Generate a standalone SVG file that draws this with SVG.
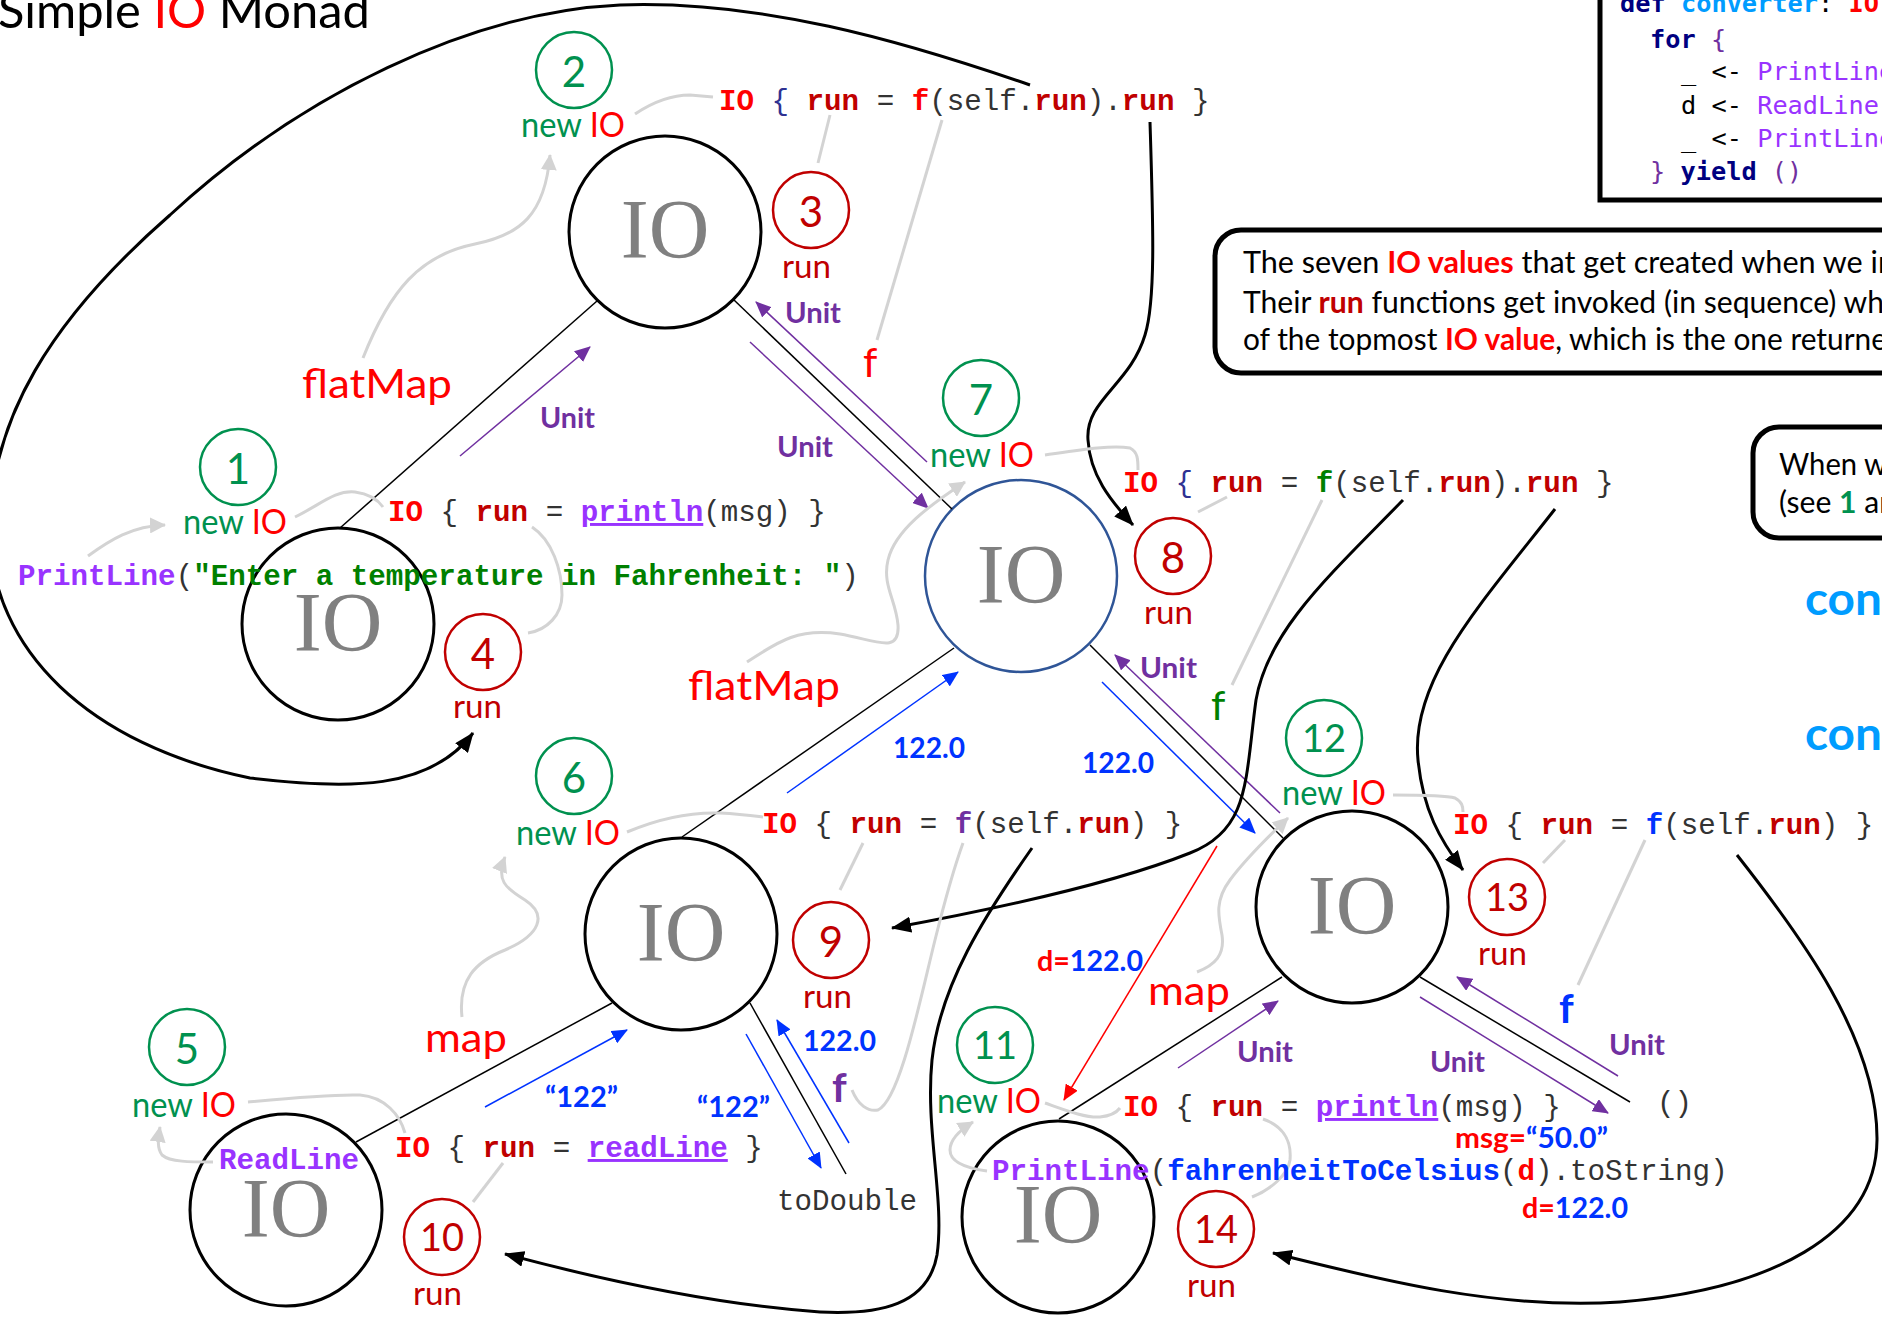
<svg xmlns="http://www.w3.org/2000/svg" width="1882" height="1319" viewBox="0 0 1882 1319">
<defs>
  <marker id="mP" viewBox="0 0 16 14" refX="15" refY="7" markerWidth="16" markerHeight="14" markerUnits="userSpaceOnUse" orient="auto"><path d="M0,0 L16,7 L0,14 z" fill="#7030A0"/></marker>
  <marker id="mB" viewBox="0 0 16 14" refX="15" refY="7" markerWidth="16" markerHeight="14" markerUnits="userSpaceOnUse" orient="auto"><path d="M0,0 L16,7 L0,14 z" fill="#0033FF"/></marker>
  <marker id="mR" viewBox="0 0 16 14" refX="15" refY="7" markerWidth="16" markerHeight="14" markerUnits="userSpaceOnUse" orient="auto"><path d="M0,0 L16,7 L0,14 z" fill="#FF0000"/></marker>
  <marker id="mK" viewBox="0 0 20 16" refX="19" refY="8" markerWidth="20" markerHeight="16" markerUnits="userSpaceOnUse" orient="auto"><path d="M0,0 L20,8 L0,16 z" fill="#000"/></marker>
  <marker id="mG" viewBox="0 0 16 16" refX="15" refY="8" markerWidth="16" markerHeight="16" markerUnits="userSpaceOnUse" orient="auto"><path d="M0,0 L16,8 L0,16 z" fill="#D3D3D3"/></marker>
</defs>
<style>
  .io { fill:#fff; stroke:#000; stroke-width:3 }
  .io3 { stroke:#2F5597; stroke-width:2.5 }
  .ioText { font-family:"Liberation Serif","Times New Roman",serif; font-size:84px; fill:#808080; text-anchor:middle }
  .badge { fill:none; stroke-width:2.5 }
  .bg { stroke:#00914F } .br { stroke:#C00000 }
  .num { font-family:Lato,"Open Sans",sans-serif; text-anchor:middle; font-size:42px }
  .num2 { font-size:38px }
  .ng { fill:#00914F } .nr { fill:#C00000 }
  .sans { font-family:Lato,"Open Sans",sans-serif }
  .newio { font-size:34px; fill:#00914F }
  .red { fill:#FF0000 }
  .runl { font-size:33px; fill:#C00000 }
  .big { font-size:41px; fill:#FF0000 }
  .unit { font-size:29px; font-weight:bold; fill:#7030A0 }
  .val { font-size:29px; font-weight:bold; fill:#0033FF }
  .code { font-family:"Liberation Mono","Courier New",monospace; font-size:29.2px; fill:#333 }
  .cio { fill:#FF0000; font-weight:bold }
  .crun { fill:#C00000; font-weight:bold }
  .cfn { fill:#9933FF; font-weight:bold; text-decoration:underline }
  .cpl { fill:#9933FF; font-weight:bold }
  .cstr { fill:#008000; font-weight:bold }
  .thin { fill:none; stroke:#000; stroke-width:1.5 }
  .ap { fill:none; stroke:#7030A0; stroke-width:1.5; marker-end:url(#mP) }
  .ab { fill:none; stroke:#0033FF; stroke-width:1.5; marker-end:url(#mB) }
  .ar { fill:none; stroke:#FF0000; stroke-width:1.5; marker-end:url(#mR) }
  .flow { fill:none; stroke:#000; stroke-width:3; marker-end:url(#mK) }
  .grey { fill:none; stroke:#D3D3D3; stroke-width:3 }
  .greyA { fill:none; stroke:#D3D3D3; stroke-width:3; marker-end:url(#mG) }
  .box { fill:#fff; stroke:#000; stroke-width:5 }
  .boxt { font-family:Lato,"Open Sans",sans-serif; font-size:30px; fill:#000 }
  .mono { font-family:"DejaVu Sans Mono",monospace; font-size:25.3px; fill:#000 }
  .kw { fill:#000080; font-weight:bold }
  .pp { fill:#7030A0 }
  .vl { fill:#9933FF }
</style>

<!-- title -->
<text class="sans" x="-2" y="28" font-size="48" textLength="372" lengthAdjust="spacingAndGlyphs">Simple <tspan class="red">IO</tspan> Monad</text>

<!-- for-comprehension source box -->
<g id="source">
  <rect class="box" x="1600" y="-20" width="400" height="220"/>
  <text class="mono" x="1620" y="12" xml:space="preserve"><tspan class="kw">def</tspan> <tspan fill="#009CFF" font-weight="bold">converter</tspan>: <tspan fill="#FF0000" font-weight="bold">IO</tspan></text>
  <text class="mono" x="1650" y="48" xml:space="preserve"><tspan class="kw">for</tspan> <tspan class="pp">{</tspan></text>
  <text class="mono" x="1681" y="80" xml:space="preserve">_ &lt;- <tspan class="vl">PrintLine</tspan></text>
  <text class="mono" x="1681" y="114" xml:space="preserve">d &lt;- <tspan class="vl">ReadLine</tspan></text>
  <text class="mono" x="1681" y="147" xml:space="preserve">_ &lt;- <tspan class="vl">PrintLine</tspan></text>
  <text class="mono" x="1650" y="180" xml:space="preserve"><tspan class="pp">}</tspan> <tspan class="kw">yield</tspan> <tspan class="pp">()</tspan></text>
</g>

<!-- explanation boxes -->
<g id="note-seven">
  <rect class="box" x="1215" y="230" width="720" height="143" rx="26"/>
  <text class="boxt" x="1243" y="273" textLength="652" lengthAdjust="spacingAndGlyphs">The seven <tspan fill="#FF0000" font-weight="bold">IO values</tspan> that get created when we in</text>
  <text class="boxt" x="1243" y="313" textLength="641" lengthAdjust="spacingAndGlyphs">Their <tspan fill="#C00000" font-weight="bold">run</tspan> functions get invoked (in sequence) wh</text>
  <text class="boxt" x="1243" y="350" textLength="644" lengthAdjust="spacingAndGlyphs">of the topmost <tspan fill="#FF0000" font-weight="bold">IO value</tspan>, which is the one returne</text>
</g>
<g id="note-when">
  <rect class="box" x="1753" y="427" width="200" height="111" rx="26"/>
  <text class="boxt" x="1779" y="475" textLength="108" lengthAdjust="spacingAndGlyphs">When w</text>
  <text class="boxt" x="1779" y="513" textLength="117" lengthAdjust="spacingAndGlyphs">(see <tspan fill="#00914F" font-weight="bold">1</tspan> an</text>
</g>
<text class="sans" x="1805" y="615" font-size="45" font-weight="bold" fill="#009CFF" textLength="77" lengthAdjust="spacingAndGlyphs">con</text>
<text class="sans" x="1805" y="750" font-size="45" font-weight="bold" fill="#009CFF" textLength="77" lengthAdjust="spacingAndGlyphs">con</text>

<!-- IO nodes -->
<g id="io-printline-1"><circle class="io" cx="338" cy="624" r="96"/><text class="ioText" x="338" y="651">IO</text></g>
<g id="io-flatmap-top"><circle class="io" cx="665" cy="232" r="96"/><text class="ioText" x="665" y="258">IO</text></g>
<g id="io-flatmap-mid"><circle class="io io3" cx="1021" cy="576" r="96"/><text class="ioText" x="1021" y="603">IO</text></g>
<g id="io-map-left"><circle class="io" cx="681" cy="934" r="96"/><text class="ioText" x="681" y="961">IO</text></g>
<g id="io-readline"><circle class="io" cx="286" cy="1210" r="96"/><text class="ioText" x="286" y="1237">IO</text></g>
<g id="io-map-right"><circle class="io" cx="1352" cy="907" r="96"/><text class="ioText" x="1352" y="934">IO</text></g>
<g id="io-printline-2"><circle class="io" cx="1058" cy="1217" r="96"/><text class="ioText" x="1058" y="1243">IO</text></g>

<!-- connectors -->
<g id="connectors">
  <!-- tree edges -->
  <line class="thin" x1="340" y1="528" x2="597" y2="301"/>
  <line class="thin" x1="734" y1="300" x2="952" y2="509"/>
  <line class="thin" x1="954" y1="648" x2="682" y2="837"/>
  <line class="thin" x1="1090" y1="645" x2="1283" y2="838"/>
  <line class="thin" x1="356" y1="1142" x2="612" y2="1003"/>
  <line class="thin" x1="750" y1="1003" x2="846" y2="1174"/>
  <line class="thin" x1="1282" y1="977" x2="1059" y2="1119"/>
  <line class="thin" x1="1420" y1="977" x2="1630" y2="1102"/>

  <!-- values passed along the edges -->
  <line class="ap" x1="460" y1="456" x2="590" y2="347"/>
  <line class="ap" x1="927" y1="462" x2="756" y2="302"/>
  <line class="ap" x1="750" y1="342" x2="928" y2="508"/>
  <line class="ab" x1="787" y1="793" x2="958" y2="672"/>
  <line class="ab" x1="1102" y1="682" x2="1255" y2="833"/>
  <line class="ap" x1="1280" y1="813" x2="1115" y2="655"/>
  <line class="ab" x1="485" y1="1107" x2="627" y2="1030"/>
  <line class="ab" x1="746" y1="1034" x2="821" y2="1168"/>
  <line class="ab" x1="849" y1="1143" x2="777" y2="1020"/>
  <line class="ap" x1="1178" y1="1068" x2="1278" y2="1001"/>
  <line class="ap" x1="1420" y1="997" x2="1608" y2="1113"/>
  <line class="ap" x1="1618" y1="1076" x2="1457" y2="977"/>
  <line class="ar" x1="1217" y1="846" x2="1064" y2="1100"/>

  <!-- run invocation flow -->
  <path class="flow" d="M1030,85 C900,40 760,0 620,5 C470,12 300,95 170,215 C50,320 -10,420 -10,530 C-10,650 90,745 250,778 C350,790 430,790 473,733"/>
  <path class="flow" d="M1150,122 C1153,220 1156,300 1145,335 C1130,385 1085,400 1088,440 C1090,475 1110,500 1133,525"/>
  <path class="flow" d="M1403,500 C1330,575 1268,630 1256,700 C1245,780 1250,830 1190,853 C1110,885 990,910 892,928"/>
  <path class="flow" d="M1555,509 C1480,605 1410,680 1418,760 C1423,810 1440,840 1463,870"/>
  <path class="flow" d="M1032,848 C985,915 940,985 932,1060 C925,1130 945,1200 937,1255 C928,1305 880,1315 820,1312 C720,1305 610,1282 505,1254"/>
  <path class="flow" d="M1737,855 C1800,935 1878,1040 1877,1140 C1876,1235 1770,1290 1620,1302 C1500,1310 1380,1280 1273,1253"/>

  <!-- annotation leaders -->
  <path class="greyA" d="M88,556 C110,540 132,526 165,525"/>
  <path class="grey" d="M295,517 C320,505 335,490 355,492 C370,494 378,500 383,507"/>
  <path class="grey" d="M532,527 C552,540 562,570 562,595 C562,615 547,630 528,633"/>
  <path class="greyA" d="M363,358 C390,290 420,255 475,244 C520,235 545,215 550,155"/>
  <path class="grey" d="M635,114 C650,104 668,95 690,95 L713,97"/>
  <path class="grey" d="M830,115 L818,163"/>
  <path class="grey" d="M877,340 L942,120"/>
  <path class="greyA" d="M747,662 C780,640 800,628 840,634 C875,640 900,655 898,625 C896,600 882,585 888,560 C895,530 930,505 965,482"/>
  <path class="grey" d="M1045,455 C1080,450 1110,445 1130,448 C1138,452 1138,460 1138,470"/>
  <path class="grey" d="M1227,497 L1198,512"/>
  <path class="grey" d="M1232,685 L1322,500"/>
  <path class="greyA" d="M462,1017 C458,980 475,962 505,950 C540,935 548,915 525,900 C505,888 496,880 505,857"/>
  <path class="grey" d="M627,832 C660,818 690,812 720,813 C740,814 755,816 763,817"/>
  <path class="grey" d="M863,843 L840,890"/>
  <path class="grey" d="M852,1090 C858,1105 868,1112 878,1110 C900,1100 920,1000 935,940 C945,900 955,865 963,843"/>
  <path class="greyA" d="M213,1162 C190,1162 170,1162 162,1155 C157,1148 158,1140 160,1127"/>
  <path class="grey" d="M248,1102 C290,1098 330,1094 360,1095 C385,1097 400,1115 405,1133"/>
  <path class="grey" d="M503,1163 L473,1202"/>
  <path class="greyA" d="M1197,972 C1215,965 1225,955 1222,935 C1218,915 1215,900 1230,880 C1245,860 1270,835 1288,818"/>
  <path class="grey" d="M1393,795 C1420,795 1445,795 1455,798 C1462,802 1463,806 1463,812"/>
  <path class="grey" d="M1565,840 L1543,863"/>
  <path class="grey" d="M1578,985 L1645,840"/>
  <path class="greyA" d="M987,1171 C965,1168 950,1162 950,1150 C950,1140 960,1130 973,1122"/>
  <path class="grey" d="M1045,1103 C1065,1110 1085,1118 1100,1117 C1110,1116 1117,1112 1120,1108"/>
  <path class="grey" d="M1263,1119 C1280,1125 1292,1138 1290,1160 C1288,1175 1270,1190 1252,1197"/>
</g>

<!-- numbered steps -->
<g id="steps">
  <g id="step1"><circle class="badge bg" cx="238" cy="467" r="38"/><text class="num ng" x="238" y="484">1</text></g>
  <g id="step2"><circle class="badge bg" cx="574" cy="70" r="38"/><text class="num ng" x="574" y="87">2</text></g>
  <g id="step3"><circle class="badge br" cx="811" cy="210" r="38"/><text class="num nr" x="811" y="227">3</text></g>
  <g id="step4"><circle class="badge br" cx="483" cy="652" r="38"/><text class="num nr" x="483" y="669">4</text></g>
  <g id="step5"><circle class="badge bg" cx="187" cy="1047" r="38"/><text class="num ng" x="187" y="1064">5</text></g>
  <g id="step6"><circle class="badge bg" cx="574" cy="776" r="38"/><text class="num ng" x="574" y="793">6</text></g>
  <g id="step7"><circle class="badge bg" cx="981" cy="398" r="38"/><text class="num ng" x="981" y="415">7</text></g>
  <g id="step8"><circle class="badge br" cx="1173" cy="556" r="38"/><text class="num nr" x="1173" y="573">8</text></g>
  <g id="step9"><circle class="badge br" cx="831" cy="940" r="38"/><text class="num nr" x="831" y="957">9</text></g>
  <g id="step10"><circle class="badge br" cx="442" cy="1237" r="38"/><text class="num num2 nr" x="442" y="1251">10</text></g>
  <g id="step11"><circle class="badge bg" cx="995" cy="1045" r="38"/><text class="num num2 ng" x="995" y="1059">11</text></g>
  <g id="step12"><circle class="badge bg" cx="1324" cy="738" r="38"/><text class="num num2 ng" x="1324" y="752">12</text></g>
  <g id="step13"><circle class="badge br" cx="1507" cy="897" r="38"/><text class="num num2 nr" x="1507" y="911">13</text></g>
  <g id="step14"><circle class="badge br" cx="1216" cy="1229" r="38"/><text class="num num2 nr" x="1216" y="1243">14</text></g>
</g>

<!-- step captions -->
<g id="captions" class="sans">
  <text class="newio" x="183" y="534" textLength="104" lengthAdjust="spacingAndGlyphs">new <tspan class="red">IO</tspan></text>
  <text class="newio" x="521" y="137" textLength="104" lengthAdjust="spacingAndGlyphs">new <tspan class="red">IO</tspan></text>
  <text class="newio" x="132" y="1117" textLength="104" lengthAdjust="spacingAndGlyphs">new <tspan class="red">IO</tspan></text>
  <text class="newio" x="516" y="845" textLength="104" lengthAdjust="spacingAndGlyphs">new <tspan class="red">IO</tspan></text>
  <text class="newio" x="930" y="467" textLength="104" lengthAdjust="spacingAndGlyphs">new <tspan class="red">IO</tspan></text>
  <text class="newio" x="937" y="1113" textLength="104" lengthAdjust="spacingAndGlyphs">new <tspan class="red">IO</tspan></text>
  <text class="newio" x="1282" y="805" textLength="104" lengthAdjust="spacingAndGlyphs">new <tspan class="red">IO</tspan></text>
  <text class="runl" x="782" y="278" textLength="49" lengthAdjust="spacingAndGlyphs">run</text>
  <text class="runl" x="453" y="718" textLength="49" lengthAdjust="spacingAndGlyphs">run</text>
  <text class="runl" x="1144" y="624" textLength="49" lengthAdjust="spacingAndGlyphs">run</text>
  <text class="runl" x="803" y="1008" textLength="49" lengthAdjust="spacingAndGlyphs">run</text>
  <text class="runl" x="413" y="1305" textLength="49" lengthAdjust="spacingAndGlyphs">run</text>
  <text class="runl" x="1478" y="965" textLength="49" lengthAdjust="spacingAndGlyphs">run</text>
  <text class="runl" x="1187" y="1297" textLength="49" lengthAdjust="spacingAndGlyphs">run</text>
</g>

<!-- combinator and function labels -->
<g id="labels" class="sans">
  <text class="big" x="302" y="398" textLength="150" lengthAdjust="spacingAndGlyphs">flatMap</text>
  <text class="big" x="688" y="700" textLength="152" lengthAdjust="spacingAndGlyphs">flatMap</text>
  <text class="big" x="425" y="1052" textLength="82" lengthAdjust="spacingAndGlyphs">map</text>
  <text class="big" x="1148" y="1005" textLength="82" lengthAdjust="spacingAndGlyphs">map</text>
  <text class="big" x="863" y="377">f</text>
  <text class="big" x="1211" y="720" style="fill:#008000">f</text>
  <text class="big" x="832" y="1102" font-weight="bold" style="fill:#7030A0">f</text>
  <text class="big" x="1559" y="1023" font-weight="bold" style="fill:#0033FF">f</text>

  <text class="unit" x="540" y="428" textLength="55" lengthAdjust="spacingAndGlyphs">Unit</text>
  <text class="unit" x="785" y="323" textLength="56" lengthAdjust="spacingAndGlyphs">Unit</text>
  <text class="unit" x="777" y="457" textLength="56" lengthAdjust="spacingAndGlyphs">Unit</text>
  <text class="unit" x="1140" y="678" textLength="57" lengthAdjust="spacingAndGlyphs">Unit</text>
  <text class="unit" x="1237" y="1062" textLength="56" lengthAdjust="spacingAndGlyphs">Unit</text>
  <text class="unit" x="1430" y="1072" textLength="55" lengthAdjust="spacingAndGlyphs">Unit</text>
  <text class="unit" x="1609" y="1055" textLength="56" lengthAdjust="spacingAndGlyphs">Unit</text>

  <text class="val" x="893" y="758" textLength="72" lengthAdjust="spacingAndGlyphs">122.0</text>
  <text class="val" x="1082" y="773" textLength="72" lengthAdjust="spacingAndGlyphs">122.0</text>
  <text class="val" x="803" y="1051" textLength="73" lengthAdjust="spacingAndGlyphs">122.0</text>
  <text class="val" x="545" y="1107" textLength="73" lengthAdjust="spacingAndGlyphs">“122”</text>
  <text class="val" x="697" y="1117" textLength="73" lengthAdjust="spacingAndGlyphs">“122”</text>
  <text class="val" x="1037" y="971" textLength="106" lengthAdjust="spacingAndGlyphs"><tspan fill="#FF0000">d=</tspan>122.0</text>
  <text class="val" x="1455" y="1148" textLength="153" lengthAdjust="spacingAndGlyphs"><tspan fill="#FF0000">msg=</tspan>“50.0”</text>
  <text class="val" x="1522" y="1218" textLength="106" lengthAdjust="spacingAndGlyphs"><tspan fill="#FF0000">d=</tspan>122.0</text>
</g>

<!-- code fragments -->
<g id="code">
  <text class="code" x="719" y="110" xml:space="preserve"><tspan class="cio">IO</tspan><tspan fill="#2E3192"> { </tspan><tspan class="crun">run</tspan> = <tspan class="cio">f</tspan>(self.<tspan class="crun">run</tspan>).<tspan class="crun">run</tspan> }</text>
  <text class="code" x="388" y="521" xml:space="preserve"><tspan class="cio">IO</tspan> { <tspan class="crun">run</tspan> = <tspan class="cfn">println</tspan>(msg) }</text>
  <text class="code" x="18" y="585" xml:space="preserve"><tspan class="cpl">PrintLine</tspan>(<tspan class="cstr">"Enter a temperature in Fahrenheit: "</tspan>)</text>
  <text class="code" x="1123" y="492" xml:space="preserve"><tspan class="cio">IO</tspan><tspan fill="#2E3192"> { </tspan><tspan class="crun">run</tspan> = <tspan fill="#008000" font-weight="bold">f</tspan>(self.<tspan class="crun">run</tspan>).<tspan class="crun">run</tspan> }</text>
  <text class="code" x="762" y="833" xml:space="preserve"><tspan class="cio">IO</tspan> { <tspan class="crun">run</tspan> = <tspan fill="#7030A0" font-weight="bold">f</tspan>(self.<tspan class="crun">run</tspan>) }</text>
  <text class="code" x="395" y="1157" xml:space="preserve"><tspan class="cio">IO</tspan> { <tspan class="crun">run</tspan> = <tspan class="cfn">readLine</tspan> }</text>
  <text class="code" x="1453" y="834" xml:space="preserve"><tspan class="cio">IO</tspan> { <tspan class="crun">run</tspan> = <tspan fill="#0033FF" font-weight="bold">f</tspan>(self.<tspan class="crun">run</tspan>) }</text>
  <text class="code" x="1123" y="1116" xml:space="preserve"><tspan class="cio">IO</tspan> { <tspan class="crun">run</tspan> = <tspan class="cfn">println</tspan>(msg) }</text>
  <text class="code" x="992" y="1180" xml:space="preserve"><tspan class="cpl">PrintLine</tspan>(<tspan fill="#0033FF" font-weight="bold">fahrenheitToCelsius</tspan>(<tspan fill="#FF0000" font-weight="bold">d</tspan>).toString)</text>
  <text class="code cpl" x="219" y="1169">ReadLine</text>
  <text class="code" x="777" y="1210">toDouble</text>
  <text class="code" x="1657" y="1112">()</text>
</g>
</svg>
